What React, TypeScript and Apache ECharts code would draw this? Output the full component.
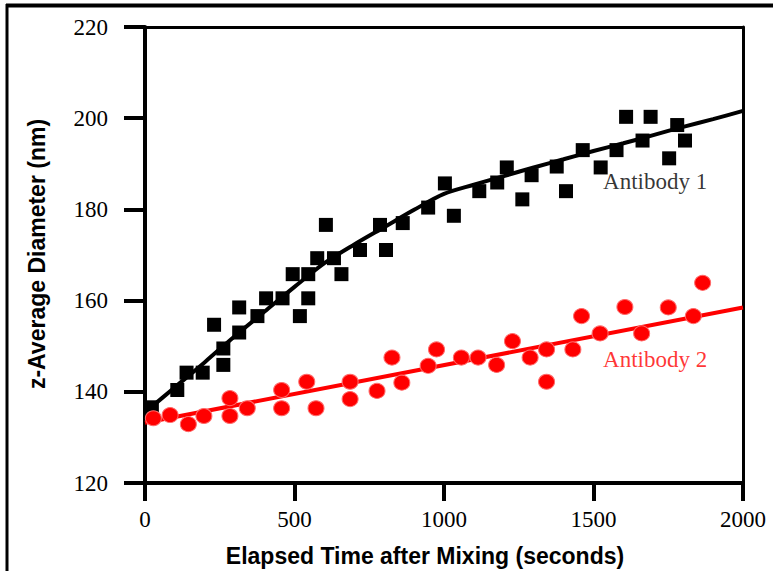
import React, { useEffect, useRef } from "react";
import * as echarts from "echarts";

// Antibody 1 (black squares)
const ab1X = [23, 108, 139, 193, 231, 262, 262, 315, 315, 376, 405, 460, 494, 518, 546, 546, 576, 605, 632, 657, 719, 786, 806, 862, 947, 1003, 1033, 1118, 1178, 1210, 1262, 1293, 1377, 1408, 1464, 1524, 1577, 1609, 1664, 1691, 1753, 1780, 1806];
const ab1Y = [136.6, 140.4, 144.2, 144.2, 154.7, 145.9, 149.5, 153.0, 158.5, 156.6, 160.5, 160.5, 165.8, 156.6, 160.5, 165.8, 169.3, 176.6, 169.3, 165.8, 171.1, 176.6, 171.1, 177.0, 180.4, 185.7, 178.6, 184.0, 185.9, 189.2, 182.2, 187.5, 189.4, 184.0, 193.0, 189.2, 193.0, 200.3, 195.1, 200.3, 191.2, 198.5, 195.1];

// Antibody 2 (red circles)
const ab2X = [28, 84, 145, 197, 284, 284, 342, 457, 457, 541, 572, 686, 686, 776, 826, 859, 947, 975, 1058, 1114, 1176, 1229, 1288, 1343, 1343, 1431, 1460, 1522, 1605, 1661, 1750, 1834, 1865];
const ab2Y = [134.2, 134.9, 132.9, 134.7, 138.6, 134.7, 136.4, 140.4, 136.4, 142.2, 136.4, 142.2, 138.4, 140.2, 147.5, 142.0, 145.7, 149.3, 147.5, 147.5, 145.9, 151.1, 147.5, 149.3, 142.2, 149.3, 156.6, 152.8, 158.6, 152.8, 158.5, 156.6, 163.9];

// Fitted curves
const fit1X = [0, 100, 200, 300, 400, 500, 600, 700, 800, 900, 1000, 1100, 1200, 1300, 1400, 1500, 1600, 1700, 1800, 1900, 2000];
const fit1Y = [135.5, 141, 146.5, 152.2, 157.6, 163, 168.2, 172.3, 176.1, 179.9, 183.4, 185.4, 187.3, 189.2, 191.0, 192.8, 194.5, 196.3, 198.1, 199.8, 201.6];
const fit2X = [0, 2000];
const fit2Y = [133.2, 158.5];

// Axis ranges / titles
const xRange = [0, 2000, 500];
const yRange = [120, 220, 20];
const xTitle = "Elapsed Time after Mixing (seconds)";
const yTitle = "z-Average Diameter (nm)";
const label1 = { text: "Antibody 1", x: 1532, y: 186.2 };
const label2 = { text: "Antibody 2", x: 1532, y: 147.0 };

const zip = (xs: number[], ys: number[]) => xs.map((x, i) => [x, ys[i]]);

const SERIF = "Liberation Serif";
const SANS = "Liberation Sans";

export default function App() {
  const ref = useRef<HTMLDivElement>(null);
  useEffect(() => {
    document.body.style.margin = "0";
    if (!ref.current) return;
    const chart = echarts.init(ref.current, undefined, { renderer: "svg" });
    const tickLabel = {
      color: "#000",
      fontFamily: SERIF,
      fontSize: 23,
      fontWeight: "normal",
      formatter: (v: number) => String(v),
    };
    chart.setOption({
      animation: false,
      backgroundColor: "#fff",
      textStyle: { fontFamily: SERIF },
      grid: { left: 145, top: 27, right: 30, bottom: 88, containLabel: false },
      xAxis: [
        {
          type: "value",
          min: xRange[0],
          max: xRange[1],
          interval: xRange[2],
          axisLine: { show: true, lineStyle: { color: "#000", width: 4 } },
          axisTick: { show: true, inside: false, length: 18, lineStyle: { color: "#000", width: 4 } },
          axisLabel: { ...tickLabel, margin: 25 },
          splitLine: { show: false },
        },
        {
          type: "value",
          position: "top",
          min: xRange[0],
          max: xRange[1],
          axisLine: { show: true, onZero: false, lineStyle: { color: "#000", width: 3 } },
          axisTick: { show: false },
          axisLabel: { show: false },
          splitLine: { show: false },
        },
      ],
      yAxis: [
        {
          type: "value",
          min: yRange[0],
          max: yRange[1],
          interval: yRange[2],
          axisLine: { show: true, lineStyle: { color: "#000", width: 4 } },
          axisTick: { show: true, inside: false, length: 21, lineStyle: { color: "#000", width: 4 } },
          axisLabel: { ...tickLabel, margin: 37, verticalAlign: "middle" },
          splitLine: { show: false },
        },
        {
          type: "value",
          position: "right",
          min: yRange[0],
          max: yRange[1],
          axisLine: { show: true, onZero: false, lineStyle: { color: "#000", width: 3 } },
          axisTick: { show: false },
          axisLabel: { show: false },
          splitLine: { show: false },
        },
      ],
      series: [
        {
          type: "line",
          data: zip(fit1X, fit1Y),
          showSymbol: false,
          smooth: 0.3,
          lineStyle: { color: "#000", width: 4 },
          z: 2,
        },
        {
          type: "scatter",
          data: zip(ab1X, ab1Y),
          symbol: "rect",
          symbolSize: 14,
          itemStyle: { color: "#000", opacity: 1 },
          z: 3,
        },
        {
          type: "line",
          data: zip(fit2X, fit2Y),
          showSymbol: false,
          lineStyle: { color: "#ff0000", width: 4 },
          z: 4,
        },
        {
          type: "scatter",
          data: zip(ab2X, ab2Y),
          symbol: "circle",
          symbolSize: [16, 15],
          itemStyle: { color: "#ff0000", borderColor: "#ff6a6a", borderWidth: 1, opacity: 1 },
          z: 5,
        },
        {
          type: "scatter",
          data: [[label1.x, label1.y]],
          symbolSize: 0,
          silent: true,
          label: {
            show: true,
            position: "right",
            distance: 0,
            formatter: label1.text,
            color: "#000",
            fontFamily: SERIF,
            fontSize: 23,
          },
          z: 6,
        },
        {
          type: "scatter",
          data: [[label2.x, label2.y]],
          symbolSize: 0,
          silent: true,
          label: {
            show: true,
            position: "right",
            distance: 0,
            formatter: label2.text,
            color: "#ff0000",
            fontFamily: SERIF,
            fontSize: 23,
          },
          z: 6,
        },
      ],
      graphic: [
        { type: "line", shape: { x1: 7, y1: 4, x2: 7, y2: 571 }, style: { stroke: "#000", lineWidth: 3 } },
        { type: "line", shape: { x1: 6, y1: 5.5, x2: 773, y2: 5.5 }, style: { stroke: "#000", lineWidth: 4 } },
        {
          type: "text",
          x: 425,
          y: 556,
          style: { text: xTitle, fontFamily: SANS, fontWeight: "bold", fontSize: 23, fill: "#000", align: "center", verticalAlign: "middle" },
        },
        {
          type: "text",
          x: 37,
          y: 254,
          rotation: Math.PI / 2,
          style: { text: yTitle, fontFamily: SANS, fontWeight: "bold", fontSize: 23, fill: "#000", align: "center", verticalAlign: "middle" },
        },
      ],
    });
    return () => chart.dispose();
  }, []);
  return <div ref={ref} style={{ width: 773, height: 571 }} />;
}
